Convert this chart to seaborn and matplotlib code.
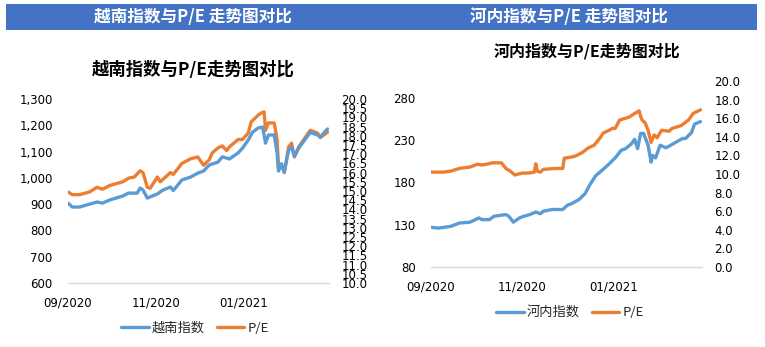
import matplotlib
matplotlib.use("Agg")
import matplotlib.pyplot as plt
import matplotlib.dates as mdates
from matplotlib.ticker import FuncFormatter
from matplotlib.lines import Line2D
from matplotlib.patches import Rectangle
import numpy as np
import pandas as pd
import seaborn as sns

# ---------------- data ----------------
header_titles = ["越南指数与P/E 走势图对比", "河内指数与P/E 走势图对比"]
chart_titles = ["越南指数与P/E走势图对比", "河内指数与P/E走势图对比"]
vn_names = ["越南指数", "P/E"]
hnx_names = ["河内指数", "P/E"]
x_tick_dates = ["2020-09-01", "2020-11-01", "2021-01-01"]
x_range = ["2020-09-01", "2021-03-01"]

vn_index_dates = ["2020-09-01", "2020-09-04", "2020-09-09", "2020-09-14", "2020-09-21", "2020-09-25",
                  "2020-09-30", "2020-10-09", "2020-10-13", "2020-10-19", "2020-10-21", "2020-10-23",
                  "2020-10-26", "2020-11-02", "2020-11-06", "2020-11-11", "2020-11-13", "2020-11-19",
                  "2020-11-25", "2020-11-30", "2020-12-04", "2020-12-08", "2020-12-14", "2020-12-17",
                  "2020-12-22", "2020-12-28", "2020-12-31", "2021-01-04", "2021-01-07", "2021-01-11",
                  "2021-01-14", "2021-01-16", "2021-01-18", "2021-01-22", "2021-01-24", "2021-01-25",
                  "2021-01-27", "2021-01-29", "2021-02-01", "2021-02-03", "2021-02-05", "2021-02-08",
                  "2021-02-16", "2021-02-21", "2021-02-23", "2021-02-28"]
vn_index = [904, 889, 889, 897, 908, 904,
            916, 931, 942, 942, 961, 954,
            923, 939, 954, 965, 952, 992,
            1003, 1018, 1026, 1049, 1060, 1080,
            1072, 1095, 1113, 1144, 1174, 1190,
            1193, 1132, 1163, 1163, 1095, 1026,
            1053, 1022, 1106, 1117, 1082, 1113,
            1173, 1163, 1156, 1186]

vn_pe_dates = ["2020-09-01", "2020-09-04", "2020-09-09", "2020-09-16", "2020-09-21", "2020-09-25",
               "2020-09-30", "2020-10-09", "2020-10-13", "2020-10-17", "2020-10-21", "2020-10-23",
               "2020-10-26", "2020-10-28", "2020-11-02", "2020-11-04", "2020-11-11", "2020-11-13",
               "2020-11-19", "2020-11-25", "2020-11-30", "2020-12-04", "2020-12-08", "2020-12-10",
               "2020-12-14", "2020-12-17", "2020-12-20", "2020-12-22", "2020-12-28", "2020-12-31",
               "2021-01-04", "2021-01-06", "2021-01-11", "2021-01-13", "2021-01-15", "2021-01-16",
               "2021-01-18", "2021-01-22", "2021-01-24", "2021-01-25", "2021-01-27", "2021-01-29",
               "2021-02-01", "2021-02-03", "2021-02-05", "2021-02-08", "2021-02-16", "2021-02-21",
               "2021-02-23", "2021-02-28"]
vn_pe = [14.95, 14.8, 14.8, 14.95, 15.2, 15.1,
         15.3, 15.5, 15.7, 15.76, 16.1, 16.0,
         15.2, 15.15, 15.76, 15.5, 16.0, 15.9,
         16.5, 16.75, 16.85, 16.4, 16.7, 17.07,
         17.34, 17.45, 17.2, 17.4, 17.8, 17.8,
         18.15, 18.75, 19.13, 19.24, 19.3, 18.3,
         18.7, 18.7, 17.8, 16.3, 16.47, 16.0,
         17.4, 17.6, 16.85, 17.4, 18.3, 18.15,
         17.9, 18.2]

hnx_index_dates = ["2020-09-01", "2020-09-06", "2020-09-14", "2020-09-20", "2020-09-27", "2020-10-03",
                   "2020-10-05", "2020-10-10", "2020-10-13", "2020-10-21", "2020-10-23", "2020-10-26",
                   "2020-10-30", "2020-11-02", "2020-11-06", "2020-11-10", "2020-11-13", "2020-11-15",
                   "2020-11-21", "2020-11-28", "2020-12-01", "2020-12-04", "2020-12-09", "2020-12-13",
                   "2020-12-16", "2020-12-20", "2020-12-24", "2020-12-29", "2021-01-02", "2021-01-06",
                   "2021-01-09", "2021-01-13", "2021-01-15", "2021-01-17", "2021-01-19", "2021-01-21",
                   "2021-01-24", "2021-01-26", "2021-01-27", "2021-01-29", "2021-02-01", "2021-02-05",
                   "2021-02-10", "2021-02-16", "2021-02-18", "2021-02-22", "2021-02-24", "2021-02-28"]
hnx_index = [127, 126, 128, 132, 133, 138,
             136, 136, 140, 142, 140, 133,
             138, 140, 142, 145, 143, 146,
             148, 148, 153, 155, 160, 167,
             177, 188, 194, 202, 209, 218,
             220, 226, 231, 220, 238, 238,
             224, 204, 212, 209, 224, 221,
             226, 232, 232, 239, 249, 252]

hnx_pe_dates = ["2020-09-01", "2020-09-09", "2020-09-14", "2020-09-20", "2020-09-27", "2020-10-02",
                "2020-10-05", "2020-10-08", "2020-10-12", "2020-10-18", "2020-10-21", "2020-10-24",
                "2020-10-27", "2020-11-01", "2020-11-05", "2020-11-09", "2020-11-10", "2020-11-11",
                "2020-11-13", "2020-11-15", "2020-11-23", "2020-11-28", "2020-11-29", "2020-12-03",
                "2020-12-06", "2020-12-11", "2020-12-15", "2020-12-19", "2020-12-23", "2020-12-25",
                "2020-12-29", "2020-12-31", "2021-01-02", "2021-01-05", "2021-01-11", "2021-01-15",
                "2021-01-18", "2021-01-19", "2021-01-20", "2021-01-22", "2021-01-24", "2021-01-26",
                "2021-01-28", "2021-01-30", "2021-02-02", "2021-02-07", "2021-02-09", "2021-02-15",
                "2021-02-20", "2021-02-23", "2021-02-28"]
hnx_pe = [10.2, 10.2, 10.3, 10.6, 10.75, 11.05,
          10.97, 11.05, 11.2, 11.2, 10.6, 10.3,
          9.9, 10.1, 10.1, 10.2, 11.1, 10.3,
          10.2, 10.5, 10.6, 10.6, 11.7, 11.8,
          11.9, 12.3, 12.8, 13.1, 13.9, 14.4,
          14.7, 14.9, 14.9, 15.8, 16.1, 16.5,
          16.8, 16.2, 15.8, 15.5, 14.7, 13.4,
          14.2, 13.9, 14.7, 14.6, 14.9, 15.2,
          15.8, 16.5, 16.9]

# axis settings (min, max, step, last labelled tick)
vn_left_axis = (600, 1300, 100, 1300)
vn_right_axis = (10, 20, 0.5, 20)
hnx_left_axis = (80, 300, 50, 280)
hnx_right_axis = (0, 20, 2, 20)

# ---------------- style ----------------
sns.set_style("white")
plt.rcParams["font.family"] = ["DejaVu Sans", "Noto Sans CJK SC"]
CJK = ["Noto Sans CJK SC", "DejaVu Sans"]
BLUE = "#5B9BD5"
ORANGE = "#ED7D31"
AXIS_GRAY = "#D9D9D9"
HEADER = "#4472C4"

W, H = 765, 347
fig = plt.figure(figsize=(W / 100, H / 100), dpi=100)


def fx(px):
    return px / W


def fy(py):
    return 1 - py / H


# header bar
fig.patches.append(Rectangle((fx(6), fy(30)), fx(751), 26 / H, transform=fig.transFigure,
                             facecolor=HEADER, edgecolor="none", zorder=0))
fig.text(fx(193), fy(17), header_titles[0], color="white", fontsize=12, fontweight="bold",
         ha="center", va="center", family=CJK)
fig.text(fx(569), fy(17), header_titles[1], color="white", fontsize=12, fontweight="bold",
         ha="center", va="center", family=CJK)


def ticks_for(axis_spec):
    lo, hi, step, last = axis_spec
    n = int(round((last - lo) / step))
    return [lo + i * step for i in range(n + 1)]


def panel(rect, dates1, vals1, dates2, vals2, names, axis1, axis2, fmt1, fs,
          title, title_xy, title_fs, legend_xy):
    ax = fig.add_axes(rect)
    ax2 = ax.twinx()
    d1 = pd.DataFrame({"date": pd.to_datetime(dates1), "value": vals1})
    d2 = pd.DataFrame({"date": pd.to_datetime(dates2), "value": vals2})
    sns.lineplot(data=d1, x="date", y="value", ax=ax, color=BLUE, linewidth=2.4, legend=False)
    sns.lineplot(data=d2, x="date", y="value", ax=ax2, color=ORANGE, linewidth=2.4, legend=False)
    ax.set_zorder(ax2.get_zorder() + 1)
    ax.patch.set_visible(False)
    for a in (ax, ax2):
        a.set_xlabel("")
        a.set_ylabel("")
        for s in a.spines.values():
            s.set_visible(False)
        a.grid(False)
    ax.spines["bottom"].set_visible(True)
    ax.spines["bottom"].set_color(AXIS_GRAY)
    ax.spines["bottom"].set_linewidth(1.0)
    ax.set_xlim(pd.Timestamp(x_range[0]), pd.Timestamp(x_range[1]))
    ax.set_xticks(pd.to_datetime(x_tick_dates))
    ax.xaxis.set_major_formatter(mdates.DateFormatter("%m/%Y"))
    ax.tick_params(axis="x", direction="out", length=4, width=1, color=AXIS_GRAY,
                   labelsize=fs, pad=6, labelcolor="#000000")
    ax.set_ylim(axis1[0], axis1[1])
    ax.set_yticks(ticks_for(axis1))
    ax.yaxis.set_major_formatter(FuncFormatter(fmt1))
    ax.tick_params(axis="y", length=0, labelsize=fs, pad=11, labelcolor="#000000")
    ax2.set_ylim(axis2[0], axis2[1])
    ax2.set_yticks(ticks_for(axis2))
    ax2.yaxis.set_major_formatter(FuncFormatter(lambda v, p: f"{v:.1f}"))
    ax2.tick_params(axis="y", length=0, labelsize=fs, pad=9, labelcolor="#000000")
    fig.text(title_xy[0], title_xy[1], title, fontsize=title_fs, fontweight="bold",
             ha="center", va="center", family=CJK, color="#000000")
    handles = [Line2D([], [], color=BLUE, linewidth=2.4), Line2D([], [], color=ORANGE, linewidth=2.4)]
    fig.legend(handles, names, loc="center", bbox_to_anchor=legend_xy, ncol=2, frameon=False,
               prop={"family": CJK, "size": 9.5}, handlelength=2.1, handletextpad=0.25,
               columnspacing=0.9, borderpad=0, borderaxespad=0)
    return ax, ax2


panel([fx(68), fy(283), fx(261), 184 / H], vn_index_dates, vn_index, vn_pe_dates, vn_pe,
      vn_names, vn_left_axis, vn_right_axis, lambda v, p: f"{v:,.0f}", 8.5,
      chart_titles[0], (fx(193), fy(70)), 12.5, (fx(195), fy(328)))

panel([fx(431), fy(267), fx(271), 186 / H], hnx_index_dates, hnx_index, hnx_pe_dates, hnx_pe,
      hnx_names, hnx_left_axis, hnx_right_axis, lambda v, p: f"{v:.0f}", 8.5,
      chart_titles[1], (fx(587), fy(51)), 11.5, (fx(570), fy(313)))

fig.savefig("out.png", dpi=100)
